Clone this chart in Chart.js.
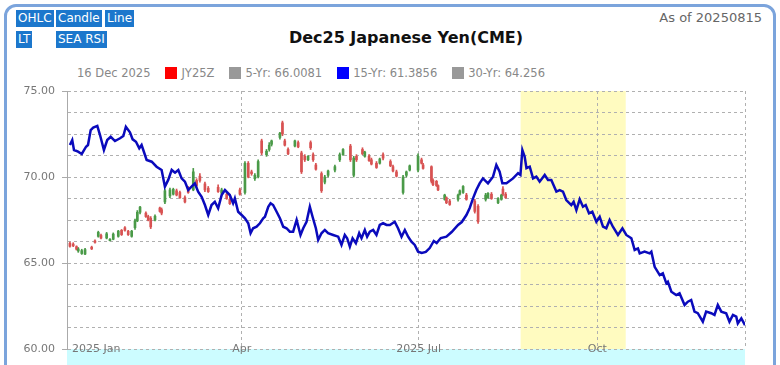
<!DOCTYPE html>
<html>
<head>
<meta charset="utf-8">
<script src="https://cdn.jsdelivr.net/npm/chart.js@4.4.1/dist/chart.umd.min.js"></script>
<style>
html, body { margin: 0; padding: 0; background: #fff; overflow: hidden; }
body { width: 780px; height: 365px; position: relative; font-family: "DejaVu Sans", Verdana, sans-serif; }
#frame { position: absolute; left: 4px; top: 4px; width: 766px; height: 430px; border: 3px solid #7ba4dc; border-radius: 12px; }
.btn { position: absolute; background: #1c77cc; color: #fff; font-size: 12px; line-height: 17px; height: 17px; padding: 0 2px; }
#asof { position: absolute; right: 18px; top: 10px; color: #666; font-size: 13px; }
#title { position: absolute; left: 0; width: 812px; top: 28px; text-align: center; font-weight: bold; font-size: 16px; color: #111; }
#legend { position: absolute; left: 77px; top: 66px; font-size: 11.5px; color: #888; white-space: nowrap; }
#legend span.item { margin-left: 15px; }
#legend i { display: inline-block; width: 12px; height: 12px; margin-right: 4px; vertical-align: -2px; }
#chart { position: absolute; left: 0; top: 0; }
</style>
</head>
<body>
<div id="frame"></div>
<span class="btn" style="left:16px;top:10px">OHLC</span>
<span class="btn" style="left:56px;top:10px">Candle</span>
<span class="btn" style="left:105px;top:10px">Line</span>
<span class="btn" style="left:16px;top:31px">LT</span>
<span class="btn" style="left:56px;top:31px">SEA RSI</span>
<div id="asof">As of 20250815</div>
<div id="title">Dec25 Japanese Yen(CME)</div>
<div id="legend">16 Dec 2025<span class="item"><i style="background:#f00"></i>JY25Z</span><span class="item"><i style="background:#999"></i>5-Yr: 66.0081</span><span class="item"><i style="background:#00f"></i>15-Yr: 61.3856</span><span class="item"><i style="background:#999"></i>30-Yr: 64.256</span></div>
<canvas id="chart" width="780" height="365"></canvas>
<script>
// x values are days since 1 Jan 2025
var xTickDays = [0, 90, 181, 273, 349];
var xTickLabels = ['2025 Jan', 'Apr', '2025 Jul', 'Oct', ''];
var highlightStart = 233.5, highlightEnd = 287.6;

// JY25Z daily bars
var candleDays = [1.5, 3.2, 4.9, 5.8, 7.6, 9.3, 12.7, 14.4, 16.1, 17.5, 20.4, 22.1, 23.8, 26.4, 28.1, 29.8, 31.5, 33.3, 35.0, 36.2,
  37.6, 40.6, 41.8, 43.1, 45.3, 47.8, 48.7, 50.4, 53.0, 54.7, 56.4, 58.1, 60.7, 62.4, 65.0, 66.7, 68.4, 71.0, 72.7, 77.8,
  79.6, 82.2, 83.8, 89.0, 91.6, 93.3, 95.0, 96.7, 98.4, 100.2, 102.7, 104.1, 105.3, 109.6, 110.9, 112.1, 113.8, 117.3, 119.0, 120.7,
  122.4, 124.1, 125.4, 126.7, 128.1, 131.0, 132.7, 134.4, 137.9, 140.4, 142.1, 145.9, 147.6, 149.0, 152.1, 153.3, 155.5, 156.7, 159.3, 161.0,
  162.7, 166.5, 167.8, 169.6, 173.0, 174.7, 176.4, 180.7, 182.5, 183.3, 187.6, 188.4, 190.2, 191.0, 194.4, 195.3, 197.0, 201.3, 202.2, 203.9,
  205.6, 209.9, 211.6, 215.5, 216.7, 218.5, 221.9, 223.6, 224.4, 225.8];
var candleOpen = [66.15, 66.10, 65.95, 65.70, 65.55, 65.52, 65.92, 66.28, 66.55, 66.60, 66.45, 66.30, 66.38, 66.55, 66.90, 67.05, 66.85, 66.55, 67.05, 67.45,
  67.95, 67.90, 67.70, 67.60, 67.50, 68.20, 68.10, 68.55, 68.90, 69.00, 69.20, 69.10, 68.80, 69.35, 69.25, 69.80, 70.05, 69.60, 69.35, 69.40,
  69.05, 69.00, 68.70, 69.25, 69.10, 70.80, 70.30, 69.90, 70.00, 72.10, 71.30, 71.60, 71.90, 72.30, 73.15, 72.10, 71.60, 71.80, 72.00, 71.40,
  71.20, 71.00, 72.00, 71.30, 70.70, 70.20, 69.70, 70.10, 70.40, 71.00, 71.30, 71.80, 70.10, 71.20, 71.60, 71.20, 71.20, 71.00, 70.80, 70.80,
  71.30, 70.90, 70.60, 70.30, 69.10, 70.10, 70.40, 70.40, 71.00, 70.70, 70.60, 69.80, 69.75, 69.50, 68.70, 68.80, 68.60, 68.70, 69.00, 69.10,
  68.95, 68.60, 68.30, 68.70, 68.80, 69.00, 68.50, 68.70, 69.30, 69.00];
var candleHigh = [66.22, 66.18, 66.00, 65.90, 65.80, 65.85, 65.98, 66.35, 66.85, 66.68, 66.78, 66.42, 66.75, 66.90, 66.95, 67.12, 66.90, 66.90, 67.55, 68.05,
  68.30, 67.98, 67.78, 67.70, 67.80, 68.25, 68.20, 69.30, 69.35, 69.35, 69.30, 69.18, 68.90, 69.45, 70.50, 69.90, 70.20, 69.70, 69.45, 69.55,
  69.35, 69.05, 68.80, 69.35, 70.90, 70.90, 70.40, 70.20, 71.00, 72.20, 71.60, 72.00, 72.15, 72.60, 73.25, 72.20, 71.70, 72.15, 72.10, 71.50,
  71.30, 71.25, 72.10, 71.40, 70.80, 70.30, 70.10, 70.40, 70.70, 71.40, 71.65, 71.90, 71.20, 71.30, 71.70, 71.50, 71.30, 71.10, 70.90, 71.10,
  71.40, 71.00, 70.70, 70.40, 70.10, 70.35, 70.70, 71.35, 71.10, 70.80, 70.65, 69.90, 69.80, 69.55, 69.00, 68.85, 68.70, 69.00, 69.25, 69.50,
  69.05, 68.70, 68.40, 69.05, 69.10, 69.10, 68.80, 69.00, 69.45, 69.10];
var candleLow = [65.92, 65.95, 65.75, 65.62, 65.50, 65.48, 65.78, 66.15, 66.50, 66.40, 66.40, 66.28, 66.35, 66.50, 66.60, 66.85, 66.60, 66.50, 66.95, 67.40,
  67.85, 67.65, 67.45, 67.00, 67.45, 67.95, 67.80, 68.45, 68.80, 68.95, 68.90, 68.75, 68.50, 69.05, 69.20, 69.40, 69.70, 69.15, 69.10, 69.10,
  68.95, 68.70, 68.40, 68.95, 69.00, 69.95, 70.10, 69.80, 69.95, 71.30, 71.20, 71.50, 71.80, 72.20, 72.40, 71.80, 71.30, 71.75, 71.70, 70.20,
  70.90, 70.95, 71.60, 70.90, 70.40, 69.10, 69.60, 70.00, 70.30, 70.90, 71.25, 70.90, 70.00, 70.90, 71.30, 71.15, 70.90, 70.70, 70.50, 70.75,
  71.00, 70.60, 70.30, 70.00, 69.00, 70.00, 70.35, 70.30, 70.75, 70.45, 69.65, 69.50, 69.45, 69.20, 68.65, 68.45, 68.35, 68.60, 68.95, 69.05,
  68.65, 67.90, 67.30, 68.60, 68.75, 68.70, 68.45, 68.65, 68.90, 68.75];
var candleClose = [65.97, 66.00, 65.80, 65.82, 65.72, 65.78, 65.82, 66.20, 66.78, 66.45, 66.70, 66.38, 66.68, 66.85, 66.65, 66.90, 66.65, 66.85, 67.45, 67.95,
  68.25, 67.70, 67.50, 67.10, 67.72, 68.00, 67.90, 69.20, 69.25, 69.28, 68.95, 68.80, 68.55, 69.10, 70.30, 69.50, 69.80, 69.25, 69.15, 69.15,
  69.25, 68.75, 68.45, 69.00, 70.80, 70.00, 70.20, 70.10, 70.90, 71.40, 71.50, 71.85, 72.10, 72.55, 72.50, 71.85, 71.35, 72.10, 71.75, 70.30,
  71.00, 71.20, 71.70, 71.00, 70.45, 69.20, 70.00, 70.35, 70.60, 71.30, 71.60, 71.00, 71.10, 71.00, 71.35, 71.45, 70.95, 70.75, 70.55, 71.05,
  71.10, 70.65, 70.35, 70.05, 70.00, 70.30, 70.65, 71.20, 70.80, 70.50, 69.75, 69.55, 69.50, 69.25, 68.95, 68.50, 68.40, 68.95, 69.20, 69.45,
  68.70, 68.00, 67.40, 68.95, 69.05, 68.75, 68.75, 68.95, 69.00, 68.80];

// 15-Yr seasonal line
var lineDays = [1.5, 2.7, 3.6, 5.7, 7.6, 9.8, 10.8, 12.2, 13.5, 15.6, 17.0, 19.0, 20.7, 22.5, 24.7, 27.3, 29.0, 30.3, 32.4, 33.8,
  35.5, 37.2, 38.4, 41.0, 43.6, 46.1, 48.7, 50.4, 52.1, 53.9, 55.6, 57.3, 59.0, 60.7, 62.4, 64.1, 65.8, 67.5, 69.3, 71.0,
  72.7, 74.4, 76.1, 77.8, 79.6, 81.3, 83.8, 85.5, 86.4, 88.1, 89.9, 91.6, 93.3, 94.5, 95.8, 97.6, 99.3, 101.0, 101.9, 103.6,
  104.8, 106.1, 107.9, 109.6, 111.3, 113.0, 114.7, 116.4, 118.2, 120.2, 121.6, 123.3, 125.0, 126.4, 128.1, 129.3, 131.0, 132.7, 134.4, 137.0,
  139.6, 141.3, 143.0, 144.2, 145.6, 147.0, 148.7, 150.4, 151.6, 153.3, 154.5, 155.9, 157.6, 159.3, 161.0, 162.7, 164.5, 166.2, 168.7, 170.4,
  172.2, 173.9, 175.6, 177.3, 179.0, 180.7, 182.6, 184.7, 186.7, 188.8, 190.3, 192.4, 195.3, 198.0, 201.3, 203.2, 205.6, 207.3, 209.0, 210.7,
  212.4, 214.1, 216.7, 219.3, 221.0, 222.7, 224.1, 226.2, 229.6, 232.2, 233.4, 234.4, 235.6, 236.5, 238.2, 239.9, 241.6, 243.3, 245.9, 247.6,
  249.3, 251.9, 253.6, 255.3, 257.0, 259.6, 260.8, 262.2, 263.9, 265.6, 267.0, 268.7, 270.4, 272.5, 274.2, 275.9, 277.6, 279.3, 281.0, 283.6,
  285.9, 287.9, 290.5, 292.2, 293.9, 294.8, 297.3, 299.9, 300.8, 302.5, 305.1, 306.7, 308.5, 309.3, 311.1, 313.6, 315.3, 317.9, 319.6, 321.3,
  323.0, 324.7, 327.3, 329.0, 331.6, 333.3, 335.0, 336.8, 339.3, 341.0, 342.8, 344.5, 345.3, 347.1, 349.0];
var lineValues = [71.86, 72.15, 71.57, 71.47, 71.34, 71.76, 71.86, 72.73, 72.87, 72.97, 72.44, 71.57, 72.15, 72.34, 72.09, 72.25, 72.38, 72.92, 72.60, 72.19,
  72.05, 71.67, 71.86, 70.99, 70.89, 70.60, 70.41, 69.44, 69.83, 70.41, 70.25, 70.41, 69.92, 69.73, 69.24, 69.44, 69.63, 69.15, 68.85, 68.37,
  67.79, 68.37, 68.56, 68.18, 68.95, 69.24, 68.95, 68.47, 68.76, 67.98, 67.79, 67.60, 67.31, 66.73, 67.02, 67.11, 67.31, 67.60, 67.69, 68.27,
  68.47, 68.37, 67.98, 67.60, 67.11, 67.02, 66.82, 66.82, 67.50, 66.63, 67.02, 67.40, 68.27, 67.69, 67.02, 66.34, 66.73, 66.92, 66.73, 66.63,
  66.53, 66.05, 66.63, 66.44, 65.95, 66.44, 66.15, 66.73, 66.44, 66.92, 66.53, 66.82, 66.92, 66.63, 67.21, 67.31, 67.21, 67.21, 67.40, 67.02,
  66.53, 66.92, 66.53, 66.24, 66.05, 65.66, 65.58, 65.64, 65.87, 66.28, 66.16, 66.45, 66.53, 66.80, 67.21, 67.38, 67.79, 68.20, 68.76, 69.24,
  69.63, 69.92, 69.63, 70.02, 70.70, 70.31, 69.63, 69.63, 69.92, 70.22, 70.12, 71.57, 71.18, 70.51, 70.60, 69.92, 70.02, 69.73, 70.12, 69.83,
  69.83, 69.15, 69.24, 69.15, 68.66, 68.37, 68.56, 68.08, 68.70, 68.27, 68.37, 67.89, 67.98, 67.40, 67.69, 67.11, 67.02, 67.50, 67.11, 66.63,
  67.02, 66.63, 66.44, 65.76, 65.85, 65.56, 65.66, 65.56, 65.66, 64.78, 64.30, 64.40, 63.82, 63.91, 63.33, 63.14, 63.24, 62.56, 62.75, 62.85,
  62.17, 62.08, 61.59, 62.17, 62.08, 61.98, 62.56, 62.17, 62.08, 61.59, 61.98, 61.88, 61.49, 61.78, 61.3856];

var upColor = '#4a9a48', downColor = '#d85252';
var candleColors = candleDays.map(function(d, i) {
  return candleClose[i] >= candleOpen[i] ? upColor : downColor;
});

var bands = {
  id: 'bands',
  beforeDraw: function(chart) {
    var ctx = chart.ctx, a = chart.chartArea, x = chart.scales.x;
    ctx.save();
    ctx.fillStyle = '#ccfcff';
    ctx.fillRect(a.left, a.bottom, a.right - a.left, chart.height - a.bottom);
    var x0 = x.getPixelForValue(highlightStart), x1 = x.getPixelForValue(highlightEnd);
    ctx.fillStyle = '#fffbc0';
    ctx.fillRect(x0, a.top, x1 - x0, a.bottom - a.top);
    ctx.restore();
  },
  // month labels sit on the bottom grid line
  afterDraw: function(chart) {
    var ctx = chart.ctx, a = chart.chartArea, x = chart.scales.x;
    ctx.save();
    ctx.font = '11px "DejaVu Sans"';
    ctx.fillStyle = '#777';
    ctx.textBaseline = 'middle';
    xTickDays.forEach(function(d, i) {
      if (!xTickLabels[i]) return;
      var px = x.getPixelForValue(d);
      ctx.textAlign = i === 0 ? 'left' : 'center';
      ctx.fillText(xTickLabels[i], i === 0 ? px + 5 : px, a.bottom);
    });
    ctx.restore();
  }
};

Chart.defaults.font.family = 'DejaVu Sans';

var chart = new Chart(document.getElementById('chart'), {
  type: 'bar',
  data: {
    datasets: [{
      type: 'line',
      label: '15-Yr',
      data: lineDays.map(function(d, i) { return {x: d, y: lineValues[i]}; }),
      borderColor: '#0a0abc',
      borderWidth: 2.5,
      pointRadius: 0,
      tension: 0,
      order: 0
    }, {
      label: 'JY25Z body',
      data: candleDays.map(function(d, i) { return {x: d, y: [candleOpen[i], candleClose[i]]}; }),
      backgroundColor: candleColors,
      barThickness: 2,
      grouped: false,
      order: 1
    }, {
      label: 'JY25Z range',
      data: candleDays.map(function(d, i) { return {x: d, y: [candleLow[i], candleHigh[i]]}; }),
      backgroundColor: candleColors,
      barThickness: 1,
      grouped: false,
      order: 2
    }]
  },
  options: {
    responsive: false,
    animation: false,
    devicePixelRatio: 1,
    layout: {padding: {top: 91, right: 35, bottom: 0, left: 0}},
    plugins: {legend: {display: false}, tooltip: {enabled: false}},
    scales: {
      x: {
        type: 'linear',
        min: 0,
        max: 349,
        offset: false,
        afterBuildTicks: function(s) { s.ticks = xTickDays.map(function(v) { return {value: v}; }); },
        afterFit: function(s) { s.height = 16; },
        grid: {color: '#b0b0b0', drawTicks: false, offset: false},
        border: {display: false, dash: [3, 3]},
        ticks: {display: false}
      },
      y: {
        min: 60,
        max: 75,
        afterFit: function(s) { s.width = 67; },
        grid: {
          color: '#b0b0b0',
          tickLength: 5,
          tickColor: function(c) { return c.tick && c.tick.value % 5 === 0 ? '#aaa' : 'rgba(0,0,0,0)'; }
        },
        border: {display: true, color: '#aaa', dash: [3, 3]},
        ticks: {
          stepSize: 1.25,
          padding: 7,
          color: '#777',
          font: {size: 11},
          callback: function(v) { return v % 5 === 0 ? v.toFixed(2) : ''; }
        }
      }
    }
  },
  plugins: [bands]
});
</script>
</body>
</html>
